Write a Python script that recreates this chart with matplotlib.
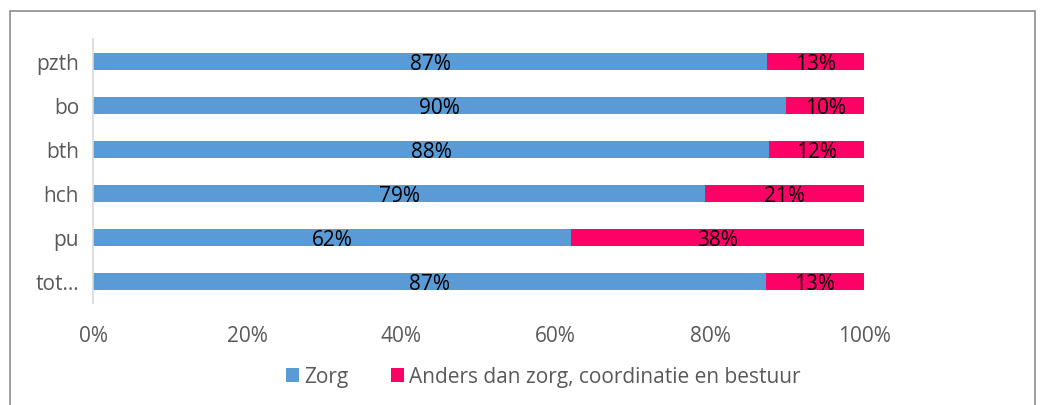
import matplotlib.pyplot as plt
from matplotlib.patches import Rectangle

categories = ["pzth", "bo", "bth", "hch", "pu", "tot..."]
zorg = [87.4, 89.9, 87.7, 79.4, 62.0, 87.2]
anders = [12.6, 10.1, 12.3, 20.6, 38.0, 12.8]
xticks = [0, 20, 40, 60, 80, 100]

plt.rcParams['font.family'] = ['Open Sans', 'DejaVu Sans']

fig = plt.figure(figsize=(10.45, 4.06), dpi=100)
ax = fig.add_axes([0.089, 0.251, 0.738, 0.65])

y = list(range(len(categories)))[::-1]
h = 0.39
b1 = ax.barh(y, zorg, height=h, color="#5B9BD5", label="Zorg")
b2 = ax.barh(y, anders, left=zorg, height=h, color="#FF0066",
             label="Anders dan zorg, coordinatie en bestuur")

for yi, z, a in zip(y, zorg, anders):
    ax.text(z / 2, yi - 0.05, f"{round(z)}%", ha="center", va="center", fontsize=15, color="black")
    ax.text(z + a / 2, yi - 0.05, f"{round(a)}%", ha="center", va="center", fontsize=15, color="black")

ax.set_xlim(0, 100)
ax.set_ylim(-0.5, 5.5)
ax.set_yticks(y)
ax.set_yticklabels(categories, fontsize=15, color="#595959")
ax.set_xticks(xticks)
ax.set_xticklabels([f"{t}%" for t in xticks], fontsize=15, color="#595959")
ax.tick_params(length=0)
ax.tick_params(axis="x", pad=16)
ax.tick_params(axis="y", pad=10)
for s in ["top", "right", "bottom"]:
    ax.spines[s].set_visible(False)
ax.spines["left"].set_color("#D9D9D9")
ax.spines["left"].set_linewidth(1.2)

fig.legend(handles=[b1, b2], loc="center", bbox_to_anchor=(0.52, 0.07), ncol=2,
           frameon=False, fontsize=15, handlelength=0.65, handleheight=0.65,
           handletextpad=0.25, columnspacing=2.0, labelcolor="#595959")

# outer chart frame
fig.patches.append(Rectangle((10 / 1045, -0.01), 1025 / 1045, 1 - 12 / 406 + 0.01,
                             transform=fig.transFigure, fill=False,
                             edgecolor="#8C8C8C", linewidth=1.2))

fig.savefig("out.png", dpi=100)
